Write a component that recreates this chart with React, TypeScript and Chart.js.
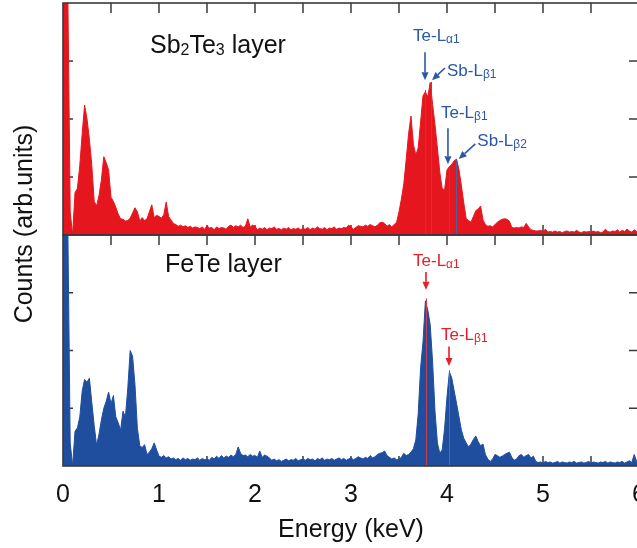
import { useEffect, useRef } from 'react';
import { Chart, registerables } from 'chart.js';

Chart.register(...registerables);

const FONT = "'Liberation Sans', Arial, Helvetica, sans-serif";

// ---- data ----
const CHANNEL_WIDTH_KEV = 0.025;
const X_MIN = 0;
const X_MAX = 6;
const X_TICK_STEP = 1;
const X_MINOR_STEP = 0.5;
const Y_MAX = 400;
const Y_TICKS = [100, 200, 300];

// Sb2Te3 layer spectrum (arb. units), channel i -> i * CHANNEL_WIDTH_KEV keV
const sb2te3Counts = [
  420, 420, 420, 40, 0,
  73, 80, 120, 175, 224, 200, 165, 120, 58, 50,
  68, 95, 135, 125, 112, 65, 58, 48, 36, 28,
  27, 24, 25, 29, 38, 47, 40, 24, 30, 25,
  28, 40, 52, 30, 34, 32, 29, 35, 57, 32,
  26, 20, 18, 15, 17, 14, 16, 13, 15, 12,
  14, 13, 11, 14, 10, 16, 12, 13, 9, 14,
  11, 13, 12, 10, 15, 17, 13, 16, 14, 17,
  13, 15, 28, 14, 17, 15, 9, 12, 10, 13,
  9, 12, 11, 14, 10, 11, 9, 12, 10, 13,
  9, 11, 10, 12, 9, 11, 10, 13, 9, 12,
  10, 14, 11, 10, 13, 9, 12, 11, 14, 10,
  12, 11, 13, 12, 17, 14, 10, 13, 16, 15,
  14, 17, 15, 18, 16, 14, 17, 21, 22, 20,
  15, 18, 14, 18, 22,
  40, 62, 88, 130, 175, 205, 156, 138, 150, 195,
  240, 247, 238, 263, 225, 190, 150, 108, 80, 78,
  112, 118, 122, 128, 131, 112, 85, 55, 28, 25,
  22, 32, 42, 45, 50, 26, 18, 15, 16, 14,
  18, 22, 25, 27, 28, 27, 24, 13, 12, 13,
  12, 14, 13, 20, 14, 9, 8, 7, 7, 8,
  6, 10, 5, 6, 5, 7, 5, 6, 4, 6,
  7, 5, 6, 5, 8, 5, 4, 6, 5, 6,
  5, 7, 5, 6, 4, 5, 10, 6, 5, 7,
  6, 9, 5, 8, 6, 10, 7, 5, 9, 6, 7,
];

// FeTe layer spectrum (arb. units)
const feteCounts = [
  420, 420, 420, 40, 0,
  60, 66, 85, 130, 150, 145, 152, 110, 70, 36,
  55, 80, 100, 112, 128, 108, 122, 85, 75, 62,
  95, 85, 135, 200, 190, 140, 65, 35, 32, 37,
  20, 24, 30, 40, 28, 17, 15, 18, 14, 16,
  12, 14, 11, 13, 10, 14, 11, 13, 10, 12,
  11, 14, 10, 13, 11, 12, 10, 15, 12, 17,
  13, 18, 14, 17, 15, 19, 16, 20, 33, 22,
  18, 19, 16, 20, 17, 18, 15, 26, 15, 19,
  17, 14, 10, 12, 9, 11, 8, 10, 12, 9,
  11, 10, 13, 9, 11, 12, 10, 13, 11, 12,
  9, 13, 11, 14, 10, 12, 11, 13, 10, 12,
  14, 11, 13, 10, 12, 14, 11, 13, 16, 14,
  12, 15, 13, 18, 14, 16, 20, 22, 23, 26,
  18, 15, 12, 14, 11,
  12, 15, 22, 18, 20, 24, 30, 45, 90, 170,
  215, 286, 270, 245, 180, 95, 40, 22, 28, 65,
  120, 163, 152, 130, 108, 85, 62, 48, 40, 33,
  38, 46, 52, 42, 35, 38, 20, 12, 8, 12,
  20, 18, 15, 17, 20, 22, 24, 15, 10, 12,
  18, 20, 15, 18, 20, 14, 17, 8, 6, 7,
  5, 8, 6, 7, 5, 6, 8, 5, 7, 6,
  5, 7, 6, 8, 5, 6, 7, 5, 6, 8,
  5, 7, 6, 5, 7, 6, 8, 5, 7, 6,
  5, 7, 6, 8, 5, 7, 9, 6, 20, 8, 7,
];

const energyKeV = sb2te3Counts.map((_, i) => Math.round(i * CHANNEL_WIDTH_KEV * 1000) / 1000);

// ---- annotations (data coordinates: keV, counts) ----
type Part = { t: string; sub?: boolean };
type TextLabel = { parts: Part[]; e: number; v: number };
type Arrow = { e1: number; v1: number; e2: number; v2: number };
type Marker = { e: number; top: number };

const topTitle: TextLabel = { parts: [{ t: 'Sb' }, { t: '2', sub: true }, { t: 'Te' }, { t: '3', sub: true }, { t: ' layer' }], e: 0.906, v: 314 };
const bottomTitle: TextLabel = { parts: [{ t: 'FeTe layer' }], e: 1.0625, v: 336 };

const topLabels: TextLabel[] = [
  { parts: [{ t: 'Te-L' }, { t: 'α1', sub: true }], e: 3.646, v: 335 },
  { parts: [{ t: 'Sb-L' }, { t: 'β1', sub: true }], e: 4.0, v: 274 },
  { parts: [{ t: 'Te-L' }, { t: 'β1', sub: true }], e: 3.9375, v: 201 },
  { parts: [{ t: 'Sb-L' }, { t: 'β2', sub: true }], e: 4.316, v: 154 },
];
const topArrows: Arrow[] = [
  { e1: 3.771, v1: 315, e2: 3.771, v2: 267 },
  { e1: 3.979, v1: 288, e2: 3.844, v2: 267 },
  { e1: 4.01, v1: 184, e2: 4.01, v2: 122 },
  { e1: 4.295, v1: 157, e2: 4.122, v2: 131 },
];
const topMarkers: Marker[] = [
  { e: 3.77, top: 250 },
  { e: 3.83, top: 264 },
  { e: 4.018, top: 117 },
  { e: 4.094, top: 129 },
];

const bottomLabels: TextLabel[] = [
  { parts: [{ t: 'Te-L' }, { t: 'α1', sub: true }], e: 3.646, v: 346 },
  { parts: [{ t: 'Te-L' }, { t: 'β1', sub: true }], e: 3.9375, v: 218 },
];
const bottomArrows: Arrow[] = [
  { e1: 3.781, v1: 336, e2: 3.781, v2: 305 },
  { e1: 4.021, v1: 207, e2: 4.021, v2: 173 },
];
const bottomMarkers: Marker[] = [
  { e: 3.78, top: 290 },
  { e: 4.02, top: 166 },
];

const RED = '#e6161f';
const BLUE = '#1f4e9e';
const ANN_BLUE = '#2a58a6';
const ANN_RED = '#ea1c26';
const FRAME = '#3a3a3a';

function drawRich(ctx: CanvasRenderingContext2D, parts: Part[], x: number, y: number, size: number, subSize: number, drop: number, color: string) {
  ctx.fillStyle = color;
  ctx.textBaseline = 'alphabetic';
  ctx.textAlign = 'left';
  let cx = x;
  for (const p of parts) {
    ctx.font = `${p.sub ? subSize : size}px ${FONT}`;
    ctx.fillText(p.t, cx, p.sub ? y + drop : y);
    cx += ctx.measureText(p.t).width;
  }
}

function drawArrow(ctx: CanvasRenderingContext2D, x1: number, y1: number, x2: number, y2: number, color: string) {
  const ang = Math.atan2(y2 - y1, x2 - x1);
  const headLen = 8;
  const headHalf = 3.5;
  const bx = x2 - headLen * Math.cos(ang);
  const by = y2 - headLen * Math.sin(ang);
  ctx.strokeStyle = color;
  ctx.fillStyle = color;
  ctx.lineWidth = 1.6;
  ctx.beginPath();
  ctx.moveTo(x1, y1);
  ctx.lineTo(bx, by);
  ctx.stroke();
  ctx.beginPath();
  ctx.moveTo(x2, y2);
  ctx.lineTo(bx + headHalf * Math.sin(ang), by - headHalf * Math.cos(ang));
  ctx.lineTo(bx - headHalf * Math.sin(ang), by + headHalf * Math.cos(ang));
  ctx.closePath();
  ctx.fill();
}

type PanelCfg = {
  id: string;
  title: TextLabel;
  labels: TextLabel[];
  arrows: Arrow[];
  markers: Marker[];
  annColor: string;
  markerColor: string;
  yTitle?: string;
};

function makePanelPlugin(cfg: PanelCfg) {
  return {
    id: cfg.id,
    beforeDatasetsDraw(chart: any) {
      const { ctx, chartArea } = chart;
      const xs = chart.scales.x;
      const ys = chart.scales.y;
      const tick = 10;
      ctx.save();
      ctx.strokeStyle = FRAME;
      ctx.lineWidth = 1.5;
      ctx.beginPath();
      for (let e = X_MIN + X_MINOR_STEP; e < X_MAX; e += X_MINOR_STEP) {
        const px = xs.getPixelForValue(e);
        ctx.moveTo(px, chartArea.top);
        ctx.lineTo(px, chartArea.top + tick);
        ctx.moveTo(px, chartArea.bottom);
        ctx.lineTo(px, chartArea.bottom - tick);
      }
      for (const v of Y_TICKS) {
        const py = ys.getPixelForValue(v);
        ctx.moveTo(chartArea.left, py);
        ctx.lineTo(chartArea.left + tick, py);
        ctx.moveTo(chartArea.right, py);
        ctx.lineTo(chartArea.right - tick, py);
      }
      ctx.stroke();
      ctx.restore();
    },
    afterDatasetsDraw(chart: any) {
      const { ctx, chartArea } = chart;
      const xs = chart.scales.x;
      const ys = chart.scales.y;
      ctx.save();
      // marker lines
      ctx.strokeStyle = cfg.markerColor;
      ctx.lineWidth = 1;
      for (const m of cfg.markers) {
        const px = Math.round(xs.getPixelForValue(m.e)) + 0.5;
        ctx.beginPath();
        ctx.moveTo(px, ys.getPixelForValue(m.top));
        ctx.lineTo(px, ys.getPixelForValue(0));
        ctx.stroke();
      }
      // frame
      ctx.strokeStyle = FRAME;
      ctx.lineWidth = 1.6;
      ctx.strokeRect(chartArea.left, chartArea.top, chartArea.right - chartArea.left, chartArea.bottom - chartArea.top);
      // arrows
      for (const a of cfg.arrows) {
        drawArrow(ctx, xs.getPixelForValue(a.e1), ys.getPixelForValue(a.v1), xs.getPixelForValue(a.e2), ys.getPixelForValue(a.v2), cfg.annColor);
      }
      // labels
      for (const l of cfg.labels) {
        drawRich(ctx, l.parts, xs.getPixelForValue(l.e), ys.getPixelForValue(l.v), 17, 12, 2, cfg.annColor);
      }
      // panel title
      drawRich(ctx, cfg.title.parts, xs.getPixelForValue(cfg.title.e), ys.getPixelForValue(cfg.title.v), 25, 16, 2.5, '#111');
      // y title
      if (cfg.yTitle) {
        ctx.translate(25, 224);
        ctx.rotate(-Math.PI / 2);
        ctx.font = `25px ${FONT}`;
        ctx.fillStyle = '#111';
        ctx.textAlign = 'center';
        ctx.textBaseline = 'middle';
        ctx.fillText(cfg.yTitle, 0, 0);
      }
      ctx.restore();
    },
  };
}

function buildDataset(values: number[], color: string) {
  return {
    data: energyKeV.map((e, i) => ({ x: e, y: values[i] })),
    borderColor: color,
    backgroundColor: color,
    borderWidth: 1,
    fill: 'origin',
    pointRadius: 0,
    tension: 0,
  };
}

export default function App() {
  const topRef = useRef<HTMLCanvasElement>(null);
  const bottomRef = useRef<HTMLCanvasElement>(null);

  useEffect(() => {
    const top = new Chart(topRef.current as HTMLCanvasElement, {
      type: 'line',
      data: { datasets: [buildDataset(sb2te3Counts, RED) as any] },
      options: {
        animation: false,
        responsive: false,
        maintainAspectRatio: false,
        events: [],
        layout: { padding: { left: 63, top: 3, right: 21, bottom: 313 } },
        scales: {
          x: { type: 'linear', min: X_MIN, max: X_MAX, display: false },
          y: { min: 0, max: Y_MAX, display: false },
        },
        plugins: { legend: { display: false }, tooltip: { enabled: false } },
      },
      plugins: [
        makePanelPlugin({
          id: 'topPanel',
          title: topTitle,
          labels: topLabels,
          arrows: topArrows,
          markers: topMarkers,
          annColor: ANN_BLUE,
          markerColor: '#4d5f9c',
          yTitle: 'Counts (arb.units)',
        }),
      ],
    });

    const bottom = new Chart(bottomRef.current as HTMLCanvasElement, {
      type: 'line',
      data: { datasets: [buildDataset(feteCounts, BLUE) as any] },
      options: {
        animation: false,
        responsive: false,
        maintainAspectRatio: false,
        events: [],
        layout: { padding: { left: 63, top: 5, right: 21, bottom: 0 } },
        scales: {
          x: {
            type: 'linear',
            min: X_MIN,
            max: X_MAX,
            grid: { display: false, drawTicks: false, tickLength: 0 },
            border: { display: false },
            ticks: { stepSize: X_TICK_STEP, padding: 14, color: '#111', font: { size: 25, family: FONT } },
            title: { display: true, text: 'Energy (keV)', color: '#111', font: { size: 25, family: FONT }, padding: { top: -9, bottom: 3 } },
          },
          y: { min: 0, max: Y_MAX, display: false },
        },
        plugins: { legend: { display: false }, tooltip: { enabled: false } },
      },
      plugins: [
        makePanelPlugin({
          id: 'bottomPanel',
          title: bottomTitle,
          labels: bottomLabels,
          arrows: bottomArrows,
          markers: bottomMarkers,
          annColor: ANN_RED,
          markerColor: '#c9404c',
        }),
      ],
    });

    return () => {
      top.destroy();
      bottom.destroy();
    };
  }, []);

  return (
    <div style={{ position: 'absolute', left: 0, top: 0, width: 637, height: 548, overflow: 'hidden', background: '#fff' }}>
      <canvas ref={topRef} width={660} height={548} style={{ position: 'absolute', left: 0, top: 0, width: 660, height: 548 }} />
      <canvas ref={bottomRef} width={660} height={318} style={{ position: 'absolute', left: 0, top: 230, width: 660, height: 318 }} />
    </div>
  );
}
